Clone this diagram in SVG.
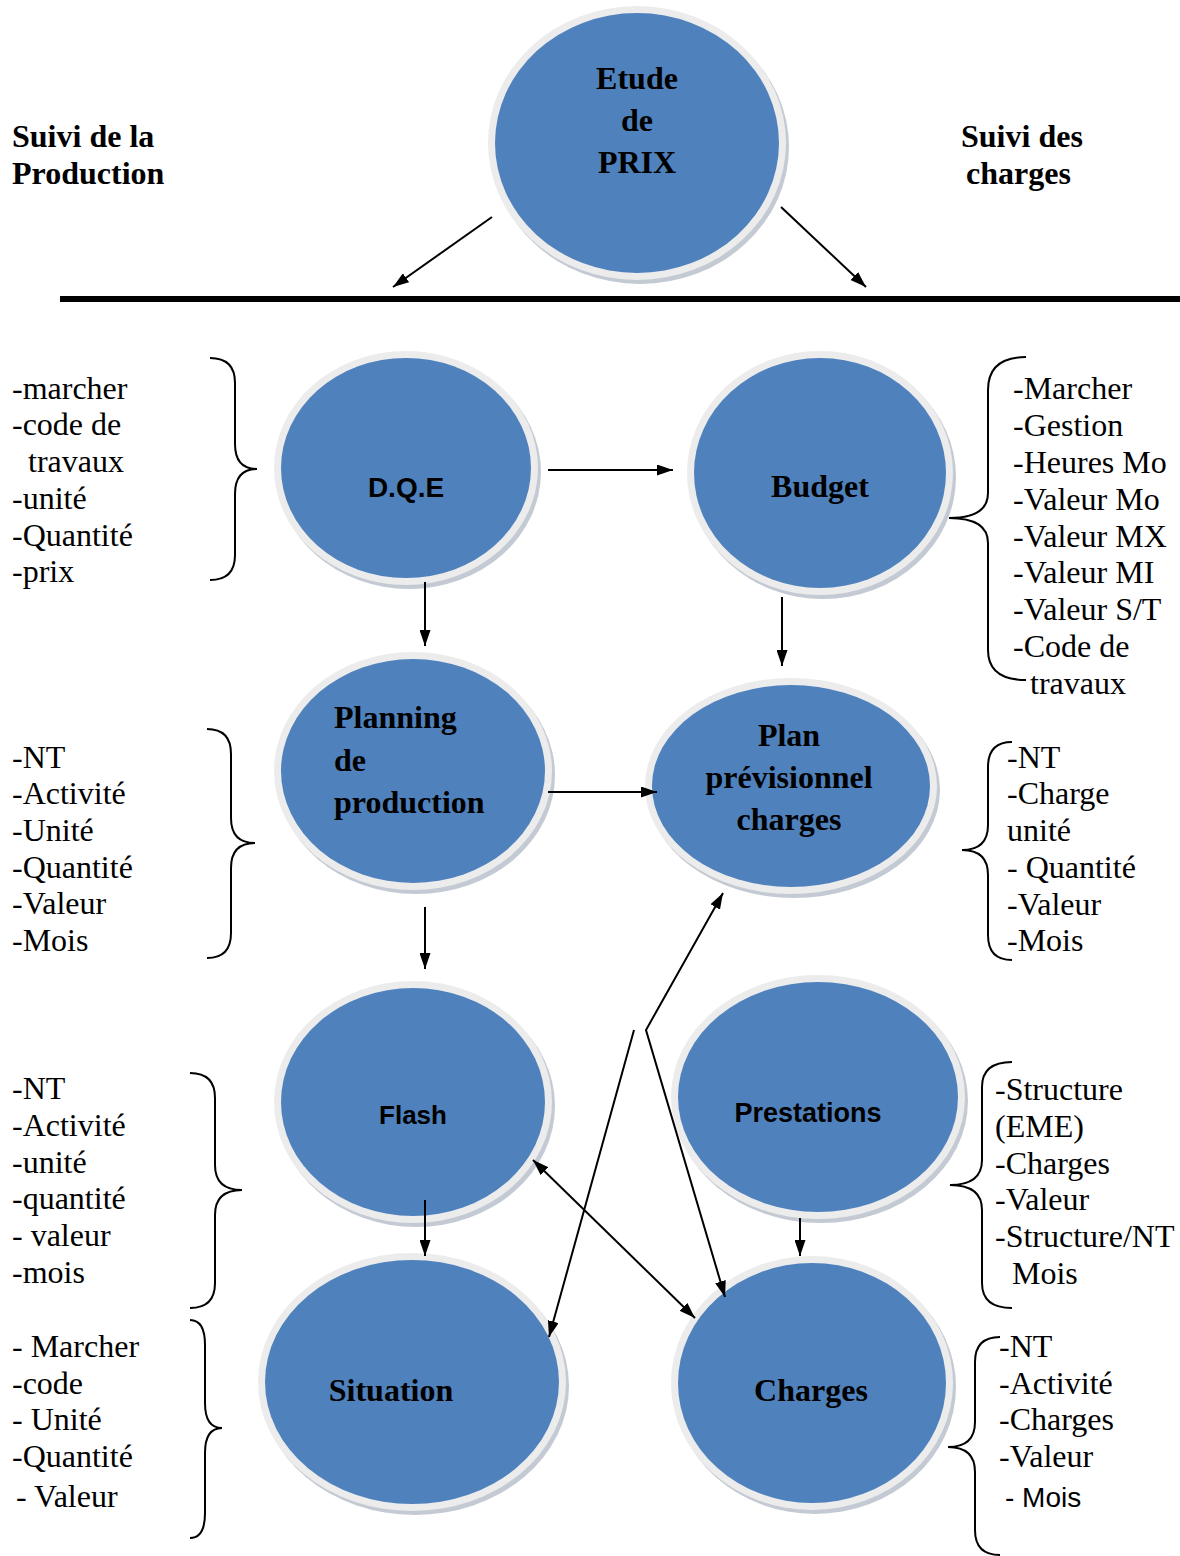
<svg xmlns="http://www.w3.org/2000/svg" width="1180" height="1556" viewBox="0 0 1180 1556">
  <defs>
    <style>
      .shadow { fill: #c4cad3; }
      .ring { fill: #ececec; }
      .disc { fill: #4f81bd; }
      .lbl { font-family: "Liberation Serif", "Times New Roman", serif; font-weight: bold; font-size: 32px; fill: #000; }
      .lbls { font-family: "Liberation Sans", Arial, sans-serif; font-weight: bold; fill: #000; }
      .list { font-family: "Liberation Serif", "Times New Roman", serif; font-size: 32px; fill: #000; }
      .lists { font-family: "Liberation Sans", Arial, sans-serif; font-size: 28px; fill: #000; }
      .head { font-family: "Liberation Serif", "Times New Roman", serif; font-weight: bold; font-size: 32px; fill: #000; }
      .edge { stroke: #000; stroke-width: 2; fill: none; }
      .brace { stroke: #000; stroke-width: 2; fill: none; }
    </style>
    <marker id="arr" viewBox="0 0 16 11" refX="16" refY="5.5" markerWidth="16" markerHeight="11" markerUnits="userSpaceOnUse" orient="auto-start-reverse">
      <path d="M0,0 L16,5.5 L0,11 z" fill="#000"/>
    </marker>
  </defs>

  <rect width="1180" height="1556" fill="#fff"/>

  <!-- column headings -->
  <g id="heading-production">
    <text class="head" x="12" y="147">Suivi de la</text>
    <text class="head" x="12" y="184">Production</text>
  </g>
  <g id="heading-charges">
    <text class="head" x="961" y="147">Suivi des</text>
    <text class="head" x="966" y="184">charges</text>
  </g>

  <!-- separator bar -->
  <rect id="separator" x="60" y="296" width="1120" height="6" fill="#000"/>

  <!-- nodes -->
  <g id="etude">
    <ellipse class="shadow" cx="640" cy="147" rx="149" ry="137"/>
    <ellipse class="ring" cx="637" cy="143" rx="149" ry="137"/>
    <ellipse class="disc" cx="637" cy="143" rx="142" ry="130"/>
    <text class="lbl" text-anchor="middle" x="637" y="89">Etude</text>
    <text class="lbl" text-anchor="middle" x="637" y="131">de</text>
    <text class="lbl" text-anchor="middle" x="637" y="173">PRIX</text>
  </g>

  <g id="dqe">
    <ellipse class="shadow" cx="409" cy="472" rx="132" ry="117"/>
    <ellipse class="ring" cx="406" cy="468" rx="132" ry="117"/>
    <ellipse class="disc" cx="406" cy="468" rx="125" ry="110"/>
    <text class="lbls" font-size="28" text-anchor="middle" x="406" y="497">D.Q.E</text>
  </g>

  <g id="budget">
    <ellipse class="shadow" cx="823" cy="477" rx="133" ry="122"/>
    <ellipse class="ring" cx="820" cy="473" rx="133" ry="122"/>
    <ellipse class="disc" cx="820" cy="473" rx="126" ry="115"/>
    <text class="lbl" text-anchor="middle" x="820" y="497">Budget</text>
  </g>

  <g id="planning">
    <ellipse class="shadow" cx="416" cy="775" rx="139" ry="119"/>
    <ellipse class="ring" cx="413" cy="771" rx="139" ry="119"/>
    <ellipse class="disc" cx="413" cy="771" rx="132" ry="112"/>
    <text class="lbl" x="334" y="728">Planning</text>
    <text class="lbl" x="334" y="771">de</text>
    <text class="lbl" x="334" y="813">production</text>
  </g>

  <g id="plan-previsionnel">
    <ellipse class="shadow" cx="794" cy="790" rx="146" ry="108"/>
    <ellipse class="ring" cx="791" cy="786" rx="146" ry="108"/>
    <ellipse class="disc" cx="791" cy="786" rx="139" ry="101"/>
    <text class="lbl" text-anchor="middle" x="789" y="746">Plan</text>
    <text class="lbl" text-anchor="middle" x="789" y="788">prévisionnel</text>
    <text class="lbl" text-anchor="middle" x="789" y="830">charges</text>
  </g>

  <g id="flash">
    <ellipse class="shadow" cx="416" cy="1106" rx="139" ry="121"/>
    <ellipse class="ring" cx="413" cy="1102" rx="139" ry="121"/>
    <ellipse class="disc" cx="413" cy="1102" rx="132" ry="114"/>
    <text class="lbls" font-size="26" text-anchor="middle" x="413" y="1124">Flash</text>
  </g>

  <g id="prestations">
    <ellipse class="shadow" cx="821" cy="1101" rx="147" ry="122"/>
    <ellipse class="ring" cx="818" cy="1097" rx="147" ry="122"/>
    <ellipse class="disc" cx="818" cy="1097" rx="140" ry="115"/>
    <text class="lbls" font-size="27" text-anchor="middle" x="808" y="1122">Prestations</text>
  </g>

  <g id="situation">
    <ellipse class="shadow" cx="415" cy="1386" rx="154" ry="129"/>
    <ellipse class="ring" cx="412" cy="1382" rx="154" ry="129"/>
    <ellipse class="disc" cx="412" cy="1382" rx="147" ry="122"/>
    <text class="lbl" text-anchor="middle" x="391" y="1401">Situation</text>
  </g>

  <g id="charges">
    <ellipse class="shadow" cx="815" cy="1387" rx="141" ry="127"/>
    <ellipse class="ring" cx="812" cy="1383" rx="141" ry="127"/>
    <ellipse class="disc" cx="812" cy="1383" rx="134" ry="120"/>
    <text class="lbl" font-size="28" text-anchor="middle" x="811" y="1401">Charges</text>
  </g>

  <!-- connectors -->
  <g id="connectors">
    <line class="edge" x1="492" y1="217" x2="393" y2="287" marker-end="url(#arr)"/>
    <line class="edge" x1="781" y1="207" x2="866" y2="287" marker-end="url(#arr)"/>
    <line class="edge" x1="548" y1="470" x2="673" y2="470" marker-end="url(#arr)"/>
    <line class="edge" x1="425" y1="582" x2="425" y2="646" marker-end="url(#arr)"/>
    <line class="edge" x1="782" y1="597" x2="782" y2="666" marker-end="url(#arr)"/>
    <line class="edge" x1="548" y1="792" x2="657" y2="792" marker-end="url(#arr)"/>
    <line class="edge" x1="425" y1="907" x2="425" y2="969" marker-end="url(#arr)"/>
    <line class="edge" x1="425" y1="1200" x2="425" y2="1256" marker-end="url(#arr)"/>
    <line class="edge" x1="800" y1="1218" x2="800" y2="1256" marker-end="url(#arr)"/>
    <line class="edge" x1="533" y1="1160" x2="695" y2="1318" marker-start="url(#arr)" marker-end="url(#arr)"/>
    <line class="edge" x1="634" y1="1030" x2="549" y2="1337" marker-end="url(#arr)"/>
    <polyline class="edge" points="723,893 646,1030 725,1297" marker-start="url(#arr)" marker-end="url(#arr)"/>
  </g>

  <!-- braces -->
  <g id="braces">
    <path class="brace" d="M210,358 Q235,358 235,383 L235,444 Q235,469 257,469 Q235,469 235,494 L235,555 Q235,580 210,580"/>
    <path class="brace" d="M207,729 Q231,729 231,754 L231,818 Q231,843 255,843 Q231,843 231,868 L231,933 Q231,958 207,958"/>
    <path class="brace" d="M190,1073 Q215,1073 215,1098 L215,1165 Q215,1190 242,1190 Q215,1190 215,1215 L215,1283 Q215,1308 190,1308"/>
    <path class="brace" d="M190,1320 Q205,1320 205,1345 L205,1403 Q205,1428 222,1428 Q205,1428 205,1453 L205,1513 Q205,1538 190,1538"/>
    <path class="brace" d="M1026,357 Q988,357 988,390 L988,493 Q988,518 949,518 Q988,518 988,543 L988,650 Q988,680 1026,680"/>
    <path class="brace" d="M1012,742 Q988,742 988,767 L988,825 Q988,850 962,850 Q988,850 988,875 L988,935 Q988,960 1012,960"/>
    <path class="brace" d="M1012,1062 Q982,1062 982,1087 L982,1160 Q982,1185 950,1185 Q982,1185 982,1210 L982,1283 Q982,1308 1012,1308"/>
    <path class="brace" d="M1000,1337 Q975,1337 975,1362 L975,1422 Q975,1447 948,1447 Q975,1447 975,1472 L975,1530 Q975,1555 1000,1555"/>
  </g>

  <!-- attribute lists -->
  <g id="list-dqe">
    <text class="list" x="12" y="399">-marcher</text>
    <text class="list" x="12" y="435">-code de</text>
    <text class="list" x="28" y="472">travaux</text>
    <text class="list" x="12" y="509">-unité</text>
    <text class="list" x="12" y="546">-Quantité</text>
    <text class="list" x="12" y="582">-prix</text>
  </g>
  <g id="list-budget">
    <text class="list" x="1013" y="399">-Marcher</text>
    <text class="list" x="1013" y="436">-Gestion</text>
    <text class="list" x="1013" y="473">-Heures Mo</text>
    <text class="list" x="1013" y="510">-Valeur Mo</text>
    <text class="list" x="1013" y="547">-Valeur MX</text>
    <text class="list" x="1013" y="583">-Valeur MI</text>
    <text class="list" x="1013" y="620">-Valeur S/T</text>
    <text class="list" x="1013" y="657">-Code de</text>
    <text class="list" x="1030" y="694">travaux</text>
  </g>
  <g id="list-planning">
    <text class="list" x="12" y="768">-NT</text>
    <text class="list" x="12" y="804">-Activité</text>
    <text class="list" x="12" y="841">-Unité</text>
    <text class="list" x="12" y="878">-Quantité</text>
    <text class="list" x="12" y="914">-Valeur</text>
    <text class="list" x="12" y="951">-Mois</text>
  </g>
  <g id="list-plan">
    <text class="list" x="1007" y="768">-NT</text>
    <text class="list" x="1007" y="804">-Charge</text>
    <text class="list" x="1007" y="841">unité</text>
    <text class="list" x="1007" y="878">- Quantité</text>
    <text class="list" x="1007" y="915">-Valeur</text>
    <text class="list" x="1007" y="951">-Mois</text>
  </g>
  <g id="list-flash">
    <text class="list" x="12" y="1099">-NT</text>
    <text class="list" x="12" y="1136">-Activité</text>
    <text class="list" x="12" y="1173">-unité</text>
    <text class="list" x="12" y="1209">-quantité</text>
    <text class="list" x="12" y="1246">- valeur</text>
    <text class="list" x="12" y="1283">-mois</text>
  </g>
  <g id="list-prestations">
    <text class="list" x="995" y="1100">-Structure</text>
    <text class="list" x="995" y="1137">(EME)</text>
    <text class="list" x="995" y="1174">-Charges</text>
    <text class="list" x="995" y="1210">-Valeur</text>
    <text class="list" x="995" y="1247">-Structure/NT</text>
    <text class="list" x="1012" y="1284">Mois</text>
  </g>
  <g id="list-situation">
    <text class="list" x="12" y="1357">- Marcher</text>
    <text class="list" x="12" y="1394">-code</text>
    <text class="list" x="12" y="1430">- Unité</text>
    <text class="list" x="12" y="1467">-Quantité</text>
    <text class="list" x="16" y="1507">- Valeur</text>
  </g>
  <g id="list-charges">
    <text class="list" x="999" y="1357">-NT</text>
    <text class="list" x="999" y="1394">-Activité</text>
    <text class="list" x="999" y="1430">-Charges</text>
    <text class="list" x="999" y="1467">-Valeur</text>
    <text class="lists" x="1005" y="1507">- Mois</text>
  </g>
</svg>
